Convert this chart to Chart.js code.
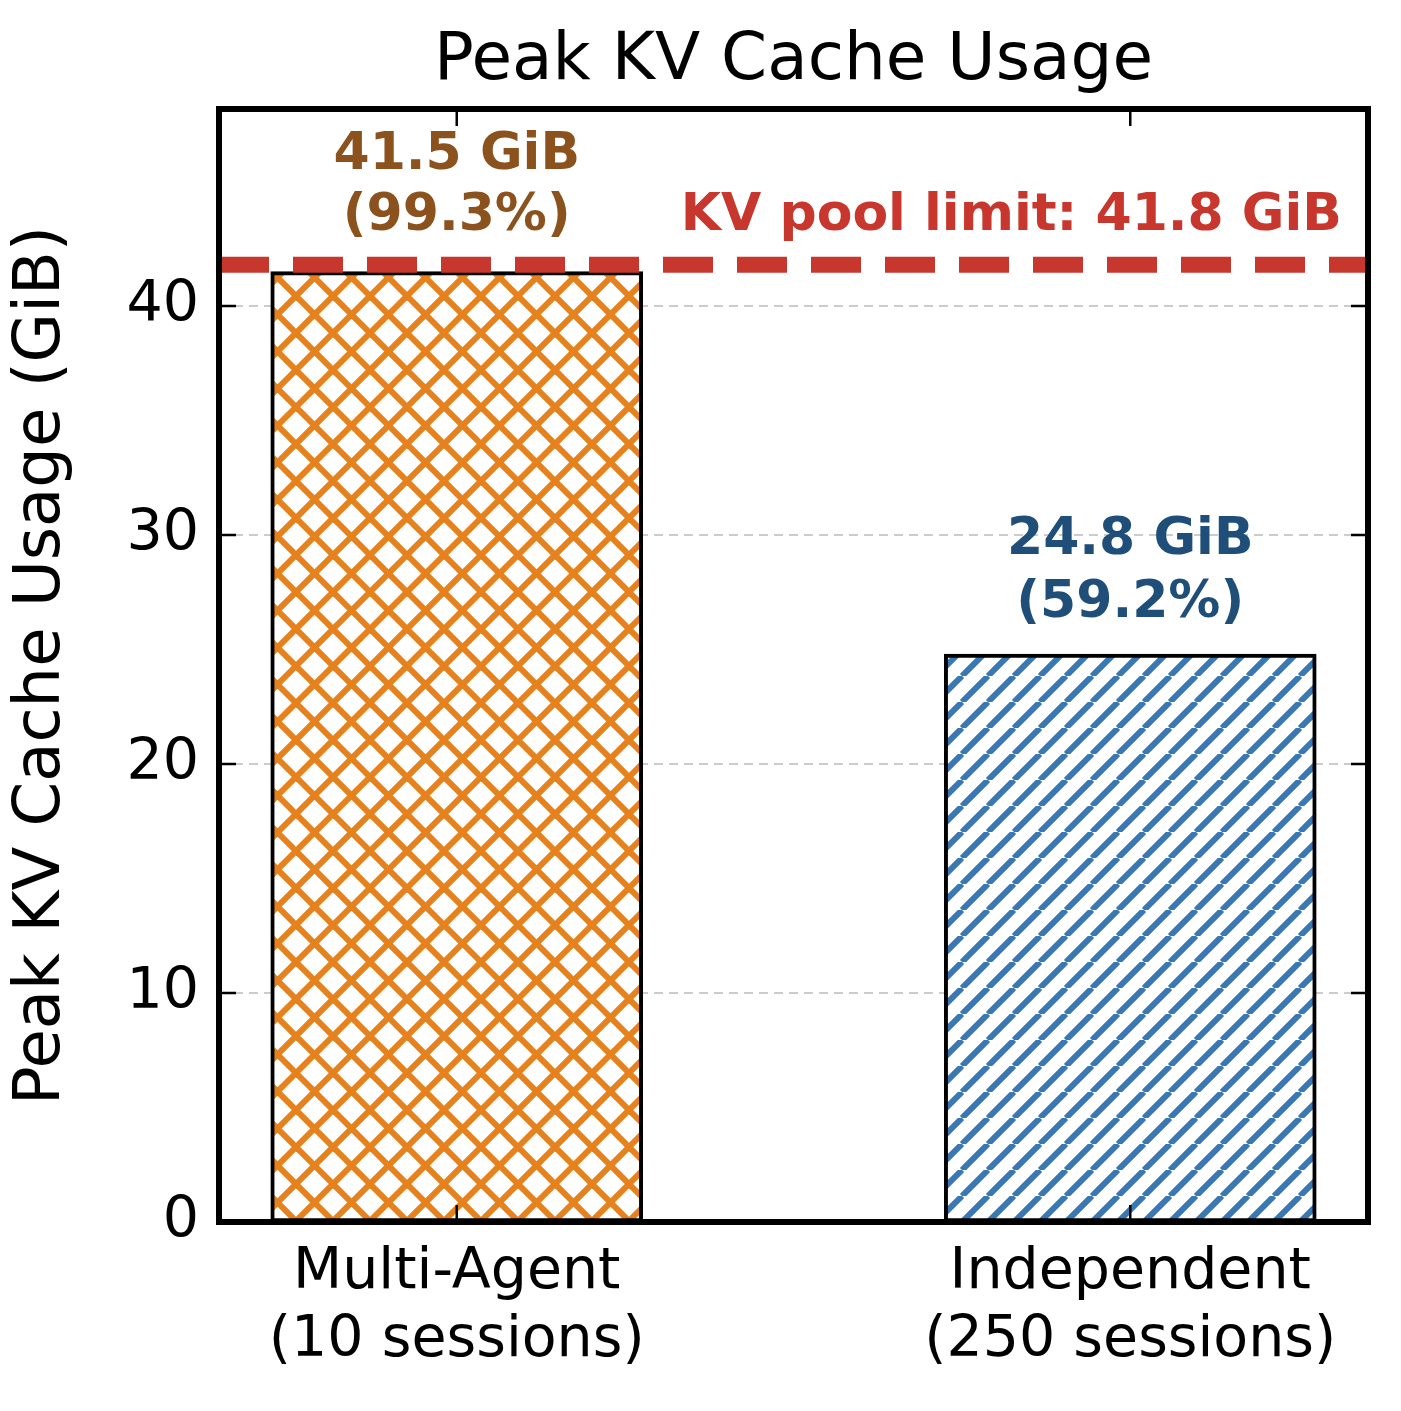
<!DOCTYPE html>
<html><head><meta charset="utf-8">
<script src="https://cdn.jsdelivr.net/npm/chart.js@4/dist/chart.umd.min.js"></script>
<style>html,body{margin:0;padding:0;background:#fff}#w{width:1401px;height:1411px}</style>
</head><body><div id="w"><canvas id="c"></canvas></div>
<script>
const categories = [["Multi-Agent","(10 sessions)"],["Independent","(250 sessions)"]];
const values = [41.5, 24.8];
const percents = ["99.3%", "59.2%"];
const yTicks = [0,10,20,30,40];
const poolLimit = 41.8;
const F = "DejaVu Sans";

function pattern(color, cross, step){
  const c=document.createElement('canvas');c.width=step;c.height=step;
  const g=c.getContext('2d');g.fillStyle='#fff';g.fillRect(0,0,step,step);
  g.strokeStyle=color;g.lineWidth=6;
  const d=(x0,y0,x1,y1)=>{g.beginPath();g.moveTo(x0,y0);g.lineTo(x1,y1);g.stroke();};
  for(let k=-1;k<=1;k++){ d(k*step,step,k*step+step,0); if(cross) d(k*step,0,k*step+step,step); }
  return g.createPattern(c,'repeat');
}
const orangeP = pattern('#E6821E', true, 37);
const blueP = pattern('#3A78B4', false, 26);

const deco = {
  id:'deco',
  beforeDatasetsDraw(ch){
    const {ctx,chartArea:a,scales:{y}}=ch;
    ctx.save();ctx.strokeStyle='#cccccc';ctx.lineWidth=2;ctx.setLineDash([9,6]);
    yTicks.forEach(t=>{if(t===0)return;const py=y.getPixelForValue(t);ctx.beginPath();ctx.moveTo(a.left,py);ctx.lineTo(a.right,py);ctx.stroke();});
    ctx.restore();
  },
  afterDatasetsDraw(ch){
    const {ctx,chartArea:a,scales:{x,y}}=ch;
    ctx.save();
    const py=y.getPixelForValue(poolLimit);
    ctx.strokeStyle='#C8372D';ctx.lineWidth=16;ctx.setLineDash([50,24]);
    ctx.beginPath();ctx.moveTo(a.left,py);ctx.lineTo(a.right,py);ctx.stroke();
    ctx.setLineDash([]);
    ctx.strokeStyle='#000';ctx.lineWidth=2.5;
    yTicks.forEach(t=>{const p=y.getPixelForValue(t);
      ctx.beginPath();ctx.moveTo(a.left,p);ctx.lineTo(a.left+17,p);ctx.moveTo(a.right,p);ctx.lineTo(a.right-17,p);ctx.stroke();});
    [0,1].forEach(t=>{const p=x.getPixelForValue(t);
      ctx.beginPath();ctx.moveTo(p,a.bottom);ctx.lineTo(p,a.bottom-17);ctx.moveTo(p,a.top);ctx.lineTo(p,a.top+17);ctx.stroke();});
    ctx.lineWidth=6;ctx.strokeRect(a.left,a.top,a.right-a.left,a.bottom-a.top);
    ctx.font='bold 52px "'+F+'"';ctx.textAlign='center';ctx.textBaseline='middle';
    const x0=x.getPixelForValue(0), x1=x.getPixelForValue(1);
    ctx.fillStyle='#8B521E';
    ctx.fillText(values[0].toFixed(1)+' GiB',x0,155);
    ctx.fillText('('+percents[0]+')',x0,216);
    ctx.fillStyle='#1F4E79';
    ctx.fillText(values[1].toFixed(1)+' GiB',x1,540);
    ctx.fillText('('+percents[1]+')',x1,603);
    ctx.fillStyle='#C8372D';ctx.textAlign='right';
    ctx.fillText('KV pool limit: '+poolLimit.toFixed(1)+' GiB',1342,216);
    ctx.fillStyle='#000';ctx.textAlign='center';ctx.font='66px "'+F+'"';
    ctx.fillText('Peak KV Cache Usage',(a.left+a.right)/2,62);
    ctx.restore();
  }
};

new Chart(document.getElementById('c'),{
  type:'bar',
  data:{datasets:[{data:values.map((v,i)=>({x:i,y:v})),
    backgroundColor:[orangeP,blueP],borderColor:'#000',borderWidth:4,barThickness:372,borderSkipped:false}]},
  options:{responsive:true,maintainAspectRatio:false,animation:false,devicePixelRatio:1,
    layout:{padding:{top:109,right:33,left:0,bottom:0}},
    plugins:{legend:{display:false},tooltip:{enabled:false}},
    scales:{
      x:{type:'linear',offset:false,min:-0.353,max:1.353,grid:{display:false,offset:false},border:{display:false},
        afterBuildTicks(s){s.ticks=[{value:0},{value:1}];},
        afterFit(s){s.height=189;},
        ticks:{color:'#000',font:{family:F,size:57,lineHeight:1.18},padding:10,maxRotation:0,autoSkip:false,
          callback:v=>categories[v]}},
      y:{min:0,max:48.6,grid:{display:false},border:{display:false},
        afterBuildTicks(s){s.ticks=yTicks.map(v=>({value:v}));},
        afterFit(s){s.width=219;},
        ticks:{color:'#000',font:{family:F,size:57},padding:12},
        title:{display:true,text:'Peak KV Cache Usage (GiB)',color:'#000',font:{family:F,size:64},padding:{bottom:10}}}
    }},
  plugins:[deco]
});
</script></body></html>
